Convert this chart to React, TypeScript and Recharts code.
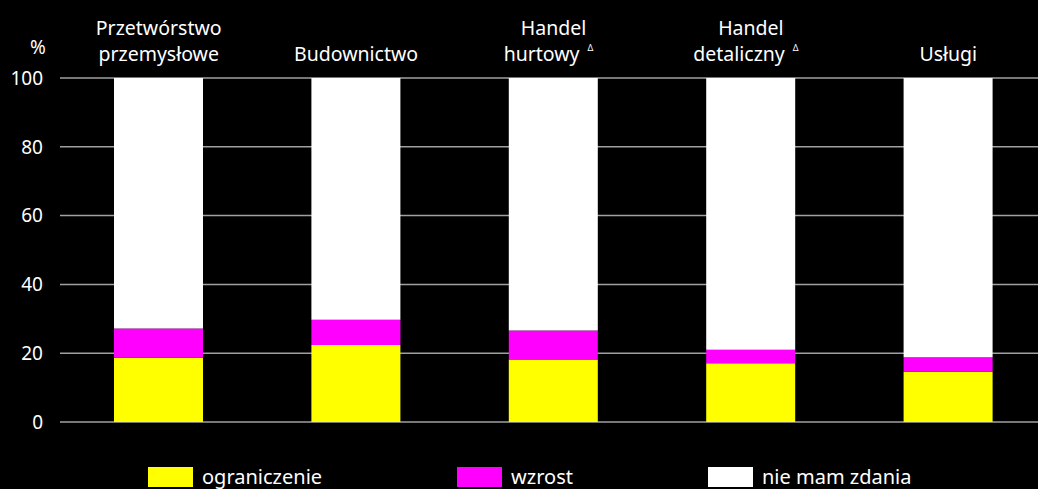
import { BarChart, Bar, XAxis, YAxis, CartesianGrid } from 'recharts';

const categories = ['Przetwórstwo\nprzemysłowe', 'Budownictwo', 'Handel\nhurtowy', 'Handel\ndetaliczny', 'Usługi'];
const flagged = [false, false, true, true, false];
const ograniczenie = [18.7, 22.4, 18.2, 17.1, 14.6];
const wzrost = [8.5, 7.3, 8.4, 3.9, 4.2];
const nieMamZdania = [72.8, 70.3, 73.4, 79.0, 81.2];
const yTicks = [0, 20, 40, 60, 80, 100];

const series = [
  { key: 'ograniczenie', label: 'ograniczenie', color: '#FFFF00' },
  { key: 'wzrost', label: 'wzrost', color: '#FF00FF' },
  { key: 'nie', label: 'nie mam zdania', color: '#FFFFFF' },
];

const data = categories.map((c, i) => ({
  name: c,
  ograniczenie: ograniczenie[i],
  wzrost: wzrost[i],
  nie: nieMamZdania[i],
}));

const FONT = '"Noto Sans", sans-serif';

function CategoryTick(props: any) {
  const { x, y, payload, index } = props;
  const lines = String(payload.value).split('\n');
  const flag = flagged[index];
  const baselines = lines.length === 2 ? [y - 43, y - 17] : [y - 17];
  return (
    <g>
      {lines.map((line, i) => (
        <text
          key={i}
          x={flag && i === lines.length - 1 ? x - 5 : x}
          y={baselines[i]}
          textAnchor="middle"
          fill="#fff"
          fontSize={19.5}
          fontFamily={FONT}
        >
          {line}
          {flag && i === lines.length - 1 ? (
            <tspan fontSize={9} dx={8} dy={-10}>Δ</tspan>
          ) : null}
        </text>
      ))}
    </g>
  );
}

export default function App() {
  return (
    <div style={{ position: 'absolute', left: 0, top: 0, width: 1038, height: 489, background: '#000', overflow: 'hidden', fontFamily: FONT }}>
      <style>{'body{margin:0;background:#000}'}</style>
      <BarChart
        width={1047}
        height={489}
        data={data}
        margin={{ top: 8, right: 0, bottom: 67, left: 0 }}
        barSize={89}
      >
        <CartesianGrid vertical={false} stroke="#a0a0a0" strokeWidth={1.5} />
        <XAxis
          dataKey="name"
          orientation="top"
          height={70}
          axisLine={false}
          tickLine={false}
          tickSize={0}
          tickMargin={0}
          interval={0}
          tick={<CategoryTick />}
        />
        <YAxis
          domain={[0, 100]}
          ticks={yTicks}
          width={60}
          axisLine={false}
          tickLine={false}
          tickSize={0}
          tickMargin={17}
          tick={{ fill: '#fff', fontSize: 19, fontFamily: FONT }}
        />
        {series.map((s) => (
          <Bar key={s.key} dataKey={s.key} stackId="a" fill={s.color} isAnimationActive={false} />
        ))}
      </BarChart>
      <div style={{ position: 'absolute', left: 30, top: 34, color: '#fff', fontSize: 19 }}>%</div>
      <div style={{ position: 'absolute', left: 148, top: 462, display: 'flex', gap: 135, alignItems: 'center' }}>
        {series.map((s) => (
          <div key={s.key} style={{ display: 'flex', alignItems: 'center' }}>
            <div style={{ width: 45, height: 20, background: s.color, marginRight: 9 }} />
            <span style={{ color: '#fff', fontSize: 20, lineHeight: '30px' }}>{s.label}</span>
          </div>
        ))}
      </div>
    </div>
  );
}
